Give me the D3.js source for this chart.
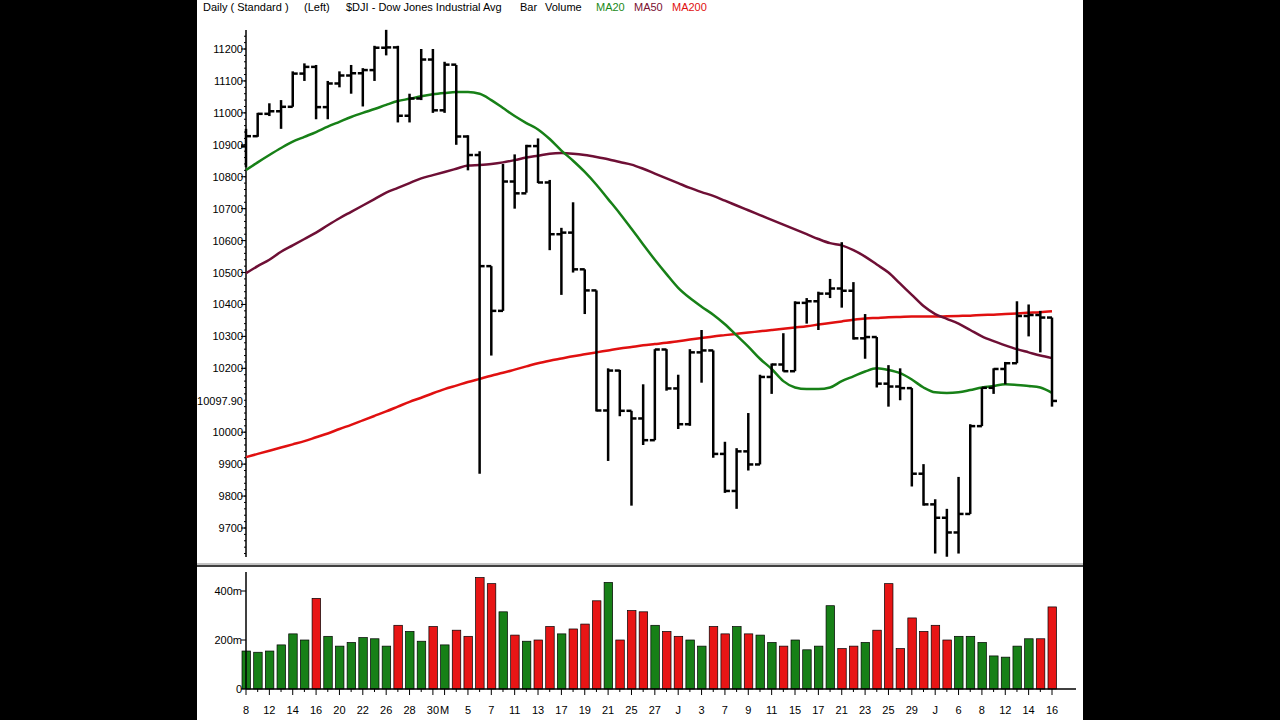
<!DOCTYPE html>
<html><head><meta charset="utf-8">
<script src="https://cdn.jsdelivr.net/npm/d3@7"></script>
<style>body{margin:0;background:#000;}svg{display:block;}text{font-family:Arial,"Liberation Sans",sans-serif;}</style>
</head><body>
<script>
const highs=[10950,11000,11030,11040,11130,11155,11150,11100,11130,11150,11140,11210,11260,11210,11060,11200,11200,11160,11150,10930,10880,10520,10840,10870,10900,10920,10790,10640,10720,10510,10444,10200,10195,10067,10150,10260,10260,10180,10260,10320,10256,9970,9950,10060,10180,10215,10310,10410,10420,10440,10480,10595,10470,10370,10298,10210,10200,10138,9900,9790,9760,9860,10025,10140,10200,10220,10410,10400,10380,10359];
const lows=[10830,10925,10990,10950,11019,11100,10980,10980,11080,11060,11020,11100,11180,10970,10970,11040,11000,11000,10900,10820,9870,10240,10380,10700,10750,10780,10570,10430,10500,10370,10065,9910,10050,9770,9960,9975,10130,10010,10020,10155,9920,9810,9760,9880,9899,10120,10190,10191,10340,10320,10420,10390,10290,10230,10140,10080,10100,9830,9770,9620,9610,9620,9744,10019,10120,10150,10216,10300,10250,10080];
const closes=[10927,10997,11005,11019,11123,11144,11018,11092,11117,11124,11134,11204,11205,10991,11045,11167,11008,11151,10926,10868,10520,10380,10785,10748,10896,10782,10620,10625,10510,10444,10068,10193,10067,10043,9975,10259,10137,10025,10250,10256,9932,9816,9940,9899,10173,10212,10191,10405,10410,10434,10450,10443,10294,10298,10152,10143,10138,9870,9774,9732,9686,9744,10019,10139,10198,10216,10364,10367,10359,10097.90];
const opens=[10895,10927,10997,11005,11019,11123,11144,11018,11092,11117,11124,11134,11204,11205,10991,11045,11167,11008,11151,10926,10868,10520,10380,10785,10748,10896,10782,10620,10625,10510,10444,10068,10193,10067,10043,9975,10259,10137,10025,10250,10256,9932,9816,9940,9899,10173,10212,10191,10405,10410,10434,10450,10443,10294,10298,10152,10143,10138,9870,9774,9732,9686,9744,10019,10139,10198,10216,10364,10367,10359];
const volumes=[155,150,155,180,225,200,370,215,175,190,210,205,175,260,235,195,255,180,240,215,455,430,315,220,195,200,255,225,245,265,360,435,200,320,315,260,235,215,200,175,255,225,255,225,220,190,175,200,160,175,340,165,175,190,240,430,165,290,235,260,200,215,215,190,135,130,175,205,205,335];
const ma20=[10821,10845,10868,10890,10910,10925,10940,10957,10972,10987,11000,11012,11025,11037,11044,11052,11058,11062,11065,11065,11060,11040,11015,10990,10968,10948,10918,10882,10850,10815,10775,10730,10685,10637,10588,10540,10495,10452,10420,10393,10368,10338,10303,10268,10230,10198,10160,10140,10135,10135,10140,10160,10175,10190,10200,10195,10185,10165,10140,10125,10123,10125,10132,10140,10145,10150,10148,10145,10140,10123];
const ma50=[10498,10520,10540,10565,10585,10605,10625,10648,10670,10690,10710,10730,10750,10765,10780,10795,10805,10815,10825,10835,10837,10840,10845,10852,10860,10866,10872,10874,10872,10868,10862,10855,10846,10838,10825,10810,10795,10780,10765,10752,10740,10725,10710,10695,10680,10665,10650,10635,10620,10605,10592,10585,10570,10550,10525,10500,10465,10430,10395,10370,10355,10340,10320,10300,10285,10272,10260,10250,10240,10232];
const ma200=[9922,9932,9942,9952,9962,9972,9984,9996,10010,10023,10037,10051,10065,10080,10095,10108,10122,10135,10146,10157,10167,10177,10186,10196,10206,10216,10224,10231,10238,10244,10250,10256,10262,10267,10272,10276,10280,10285,10290,10295,10300,10304,10308,10312,10316,10320,10324,10328,10332,10337,10342,10347,10352,10356,10358,10360,10361,10362,10362,10362,10363,10364,10365,10367,10368,10370,10372,10374,10376,10379];
const xLabels=[[0,"8"],[2,"12"],[4,"14"],[6,"16"],[8,"20"],[10,"22"],[12,"26"],[14,"28"],[16,"30"],[17,"M"],[19,"5"],[21,"7"],[23,"11"],[25,"13"],[27,"17"],[29,"19"],[31,"21"],[33,"25"],[35,"27"],[37,"J"],[39,"3"],[41,"7"],[43,"9"],[45,"11"],[47,"15"],[49,"17"],[51,"21"],[53,"23"],[55,"25"],[57,"29"],[59,"J"],[61,"6"],[63,"8"],[65,"12"],[67,"14"],[69,"16"]];
const priceTicks=[9700,9800,9900,10000,10200,10300,10400,10500,10600,10700,10800,10900,11000,11100,11200];
const volTicks=[0,200,400];

const W=1280,H=720;
const svg=d3.select("body").append("svg").attr("width",W).attr("height",H);
svg.append("rect").attr("x",197).attr("y",0).attr("width",886).attr("height",720).attr("fill","#fff");
const x=d3.scaleLinear().domain([0,69]).range([246,1052]);
const y=d3.scaleLinear().domain([9700,11200]).range([528,49]);
const yv=d3.scaleLinear().domain([0,400]).range([689,591]);

const hdr=[["Daily ( Standard )",203,"#000"],["(Left)",304,"#000"],["$DJI - Dow Jones Industrial Avg",346,"#000"],["Bar",520,"#000"],["Volume",545,"#000"],["MA20",596,"#1a8a1a"],["MA50",634,"#7a1030"],["MA200",672,"#e01010"]];
hdr.forEach(h=>svg.append("text").attr("x",h[1]).attr("y",11).attr("font-size",11).attr("fill",h[2]).text(h[0]));

const gy=svg.append("g").attr("transform","translate(246,0)");
gy.append("line").attr("y1",30).attr("y2",557).attr("stroke","#000").attr("stroke-width",1.5);
const minor=d3.range(9620,11260,20);
gy.selectAll(".mn").data(minor).join("line").attr("x1",-2).attr("x2",0).attr("y1",d=>y(d)).attr("y2",d=>y(d)).attr("stroke","#000");
gy.selectAll(".mj").data(priceTicks).join("line").attr("x1",-5).attr("x2",0).attr("y1",d=>y(d)).attr("y2",d=>y(d)).attr("stroke","#000");
gy.selectAll(".tl").data(priceTicks).join("text").attr("x",-3).attr("y",d=>y(d)+4).attr("text-anchor","end").attr("font-size",11).text(d=>d);
gy.append("text").attr("x",-3).attr("y",y(closes[69])+4).attr("text-anchor","end").attr("font-size",11).text(closes[69].toFixed(2));

const line=arr=>d3.line().x((d,i)=>x(i)).y(d=>y(d)).curve(d3.curveMonotoneX)(arr);
svg.append("path").attr("d",line(ma200)).attr("fill","none").attr("stroke","#e01010").attr("stroke-width",2.5);
svg.append("path").attr("d",line(ma50)).attr("fill","none").attr("stroke","#6e0f35").attr("stroke-width",2.5);
svg.append("path").attr("d",line(ma20)).attr("fill","none").attr("stroke","#178017").attr("stroke-width",2.5);

const idx=d3.range(closes.length);
const gb=svg.append("g").attr("stroke","#000").attr("stroke-width",2.5);
idx.forEach(i=>{
  gb.append("line").attr("x1",x(i)).attr("x2",x(i)).attr("y1",y(highs[i])).attr("y2",y(lows[i]));
  gb.append("line").attr("x1",x(i)-5).attr("x2",x(i)).attr("y1",y(opens[i])).attr("y2",y(opens[i]));
  gb.append("line").attr("x1",x(i)).attr("x2",x(i)+5).attr("y1",y(closes[i])).attr("y2",y(closes[i]));
});

svg.append("line").attr("x1",197).attr("x2",1083).attr("y1",564).attr("y2",564).attr("stroke","#888").attr("stroke-width",1);
svg.append("line").attr("x1",197).attr("x2",1083).attr("y1",566).attr("y2",566).attr("stroke","#000").attr("stroke-width",1.5);

svg.selectAll(".vb").data(idx).join("rect").attr("x",i=>x(i)-4).attr("width",8.5)
 .attr("y",i=>yv(volumes[i])).attr("height",i=>yv(0)-yv(volumes[i]))
 .attr("fill",i=>(i===0||closes[i]>=closes[i-1])?"#178017":"#e81515").attr("stroke","#000").attr("stroke-width",0.7);
const gv=svg.append("g").attr("transform","translate(246,0)");
gv.append("line").attr("y1",572).attr("y2",689).attr("stroke","#000").attr("stroke-width",1.5);
gv.selectAll(".vt").data(volTicks).join("line").attr("x1",-5).attr("x2",0).attr("y1",d=>yv(d)).attr("y2",d=>yv(d)).attr("stroke","#000");
gv.selectAll(".vl").data(volTicks).join("text").attr("x",-4).attr("y",d=>yv(d)+4).attr("text-anchor","end").attr("font-size",11).text(d=>d===0?"0":d+"m");
svg.append("line").attr("x1",246).attr("x2",1076).attr("y1",689).attr("y2",689).attr("stroke","#000").attr("stroke-width",1.5);
svg.selectAll(".xt").data(idx).join("line").attr("x1",i=>x(i)).attr("x2",i=>x(i)).attr("y1",689).attr("y2",i=>xLabels.some(l=>l[0]===i)?695:692).attr("stroke","#000");
svg.selectAll(".xl").data(xLabels).join("text").attr("x",d=>x(d[0])).attr("y",714).attr("text-anchor","middle").attr("font-size",11).text(d=>d[1]);
</script>
</body></html>
